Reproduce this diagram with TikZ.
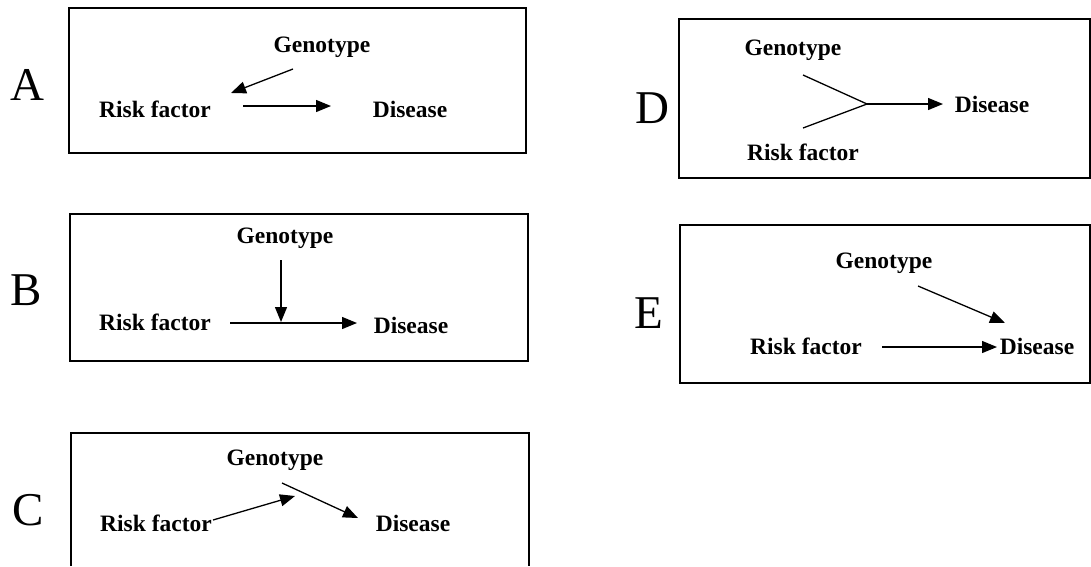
\documentclass[tikz,border=0pt]{standalone}
\usepackage{fontspec}
\setmainfont{Liberation Serif}
\usetikzlibrary{arrows.meta}
\begin{document}
\begin{tikzpicture}[x=1pt,y=-1pt,
  panel/.style={line width=1.4pt,draw=black},
  lbl/.style={anchor=base,inner sep=0pt,font=\fontsize{47}{50}\selectfont},
  term/.style={anchor=base,inner sep=0pt,font=\fontsize{23.5}{26}\selectfont\bfseries},
  arr/.style={line width=1.3pt,-{Triangle[length=15pt,width=12pt]}},
  ln/.style={line width=1.3pt}]
\useasboundingbox (0,0) rectangle (1091,566);
% boxes
\draw[panel] (69,8) rectangle (526,153);
\draw[panel] (70,214) rectangle (528,361);
\draw[panel] (71,566) -- (71,433) -- (529,433) -- (529,566);
\draw[panel] (679,19) rectangle (1090,178);
\draw[panel] (680,225) rectangle (1090,383);
% panel labels
\node[lbl] (LA) at (27,100) {A};
\node[lbl] (LB) at (26,305) {B};
\node[lbl] (LC) at (28,525) {C};
\node[lbl] (LD) at (652,123) {D};
\node[lbl] (LE) at (649,328) {E};
% A
\node[term] (gA) at (322,52) {Genotype};
\node[term] (rA) at (155,117) {Risk factor};
\node[term] (dA) at (410,117) {Disease};
\coordinate (a1) at (293,69);
\coordinate (a2) at (231,93);
\coordinate (a3) at (243,106);
\coordinate (a4) at (331,106);
\draw[arr] (a1) -- (a2);
\draw[arr] (a3) -- (a4);
% B
\node[term] (gB) at (285,243) {Genotype};
\node[term] (rB) at (155,330) {Risk factor};
\node[term] (dB) at (411,333) {Disease};
\coordinate (b1) at (281,260);
\coordinate (b2) at (281,322);
\coordinate (b3) at (230,323);
\coordinate (b4) at (357,323);
\draw[arr] (b1) -- (b2);
\draw[arr] (b3) -- (b4);
% C
\node[term] (gC) at (275,465) {Genotype};
\node[term] (rC) at (156,531) {Risk factor};
\node[term] (dC) at (413,531) {Disease};
\coordinate (c1) at (213,520);
\coordinate (c2) at (295,496);
\coordinate (c3) at (282,483);
\coordinate (c4) at (358,518);
\draw[arr] (c1) -- (c2);
\draw[arr] (c3) -- (c4);
% D
\node[term] (gD) at (793,55) {Genotype};
\node[term] (rD) at (803,160) {Risk factor};
\node[term] (dD) at (992,112) {Disease};
\coordinate (d1) at (803,75);
\coordinate (d2) at (803,128);
\coordinate (dj) at (867,104);
\coordinate (d3) at (943,104);
\draw[ln] (d1) -- (dj);
\draw[ln] (d2) -- (dj);
\draw[arr] (dj) -- (d3);
% E
\node[term] (gE) at (884,268) {Genotype};
\node[term] (rE) at (806,354) {Risk factor};
\node[term] (dE) at (1037,354) {Disease};
\coordinate (e1) at (918,286);
\coordinate (e2) at (1005,323);
\coordinate (e3) at (882,347);
\coordinate (e4) at (997,347);
\draw[arr] (e1) -- (e2);
\draw[arr] (e3) -- (e4);
\end{tikzpicture}
\end{document}
